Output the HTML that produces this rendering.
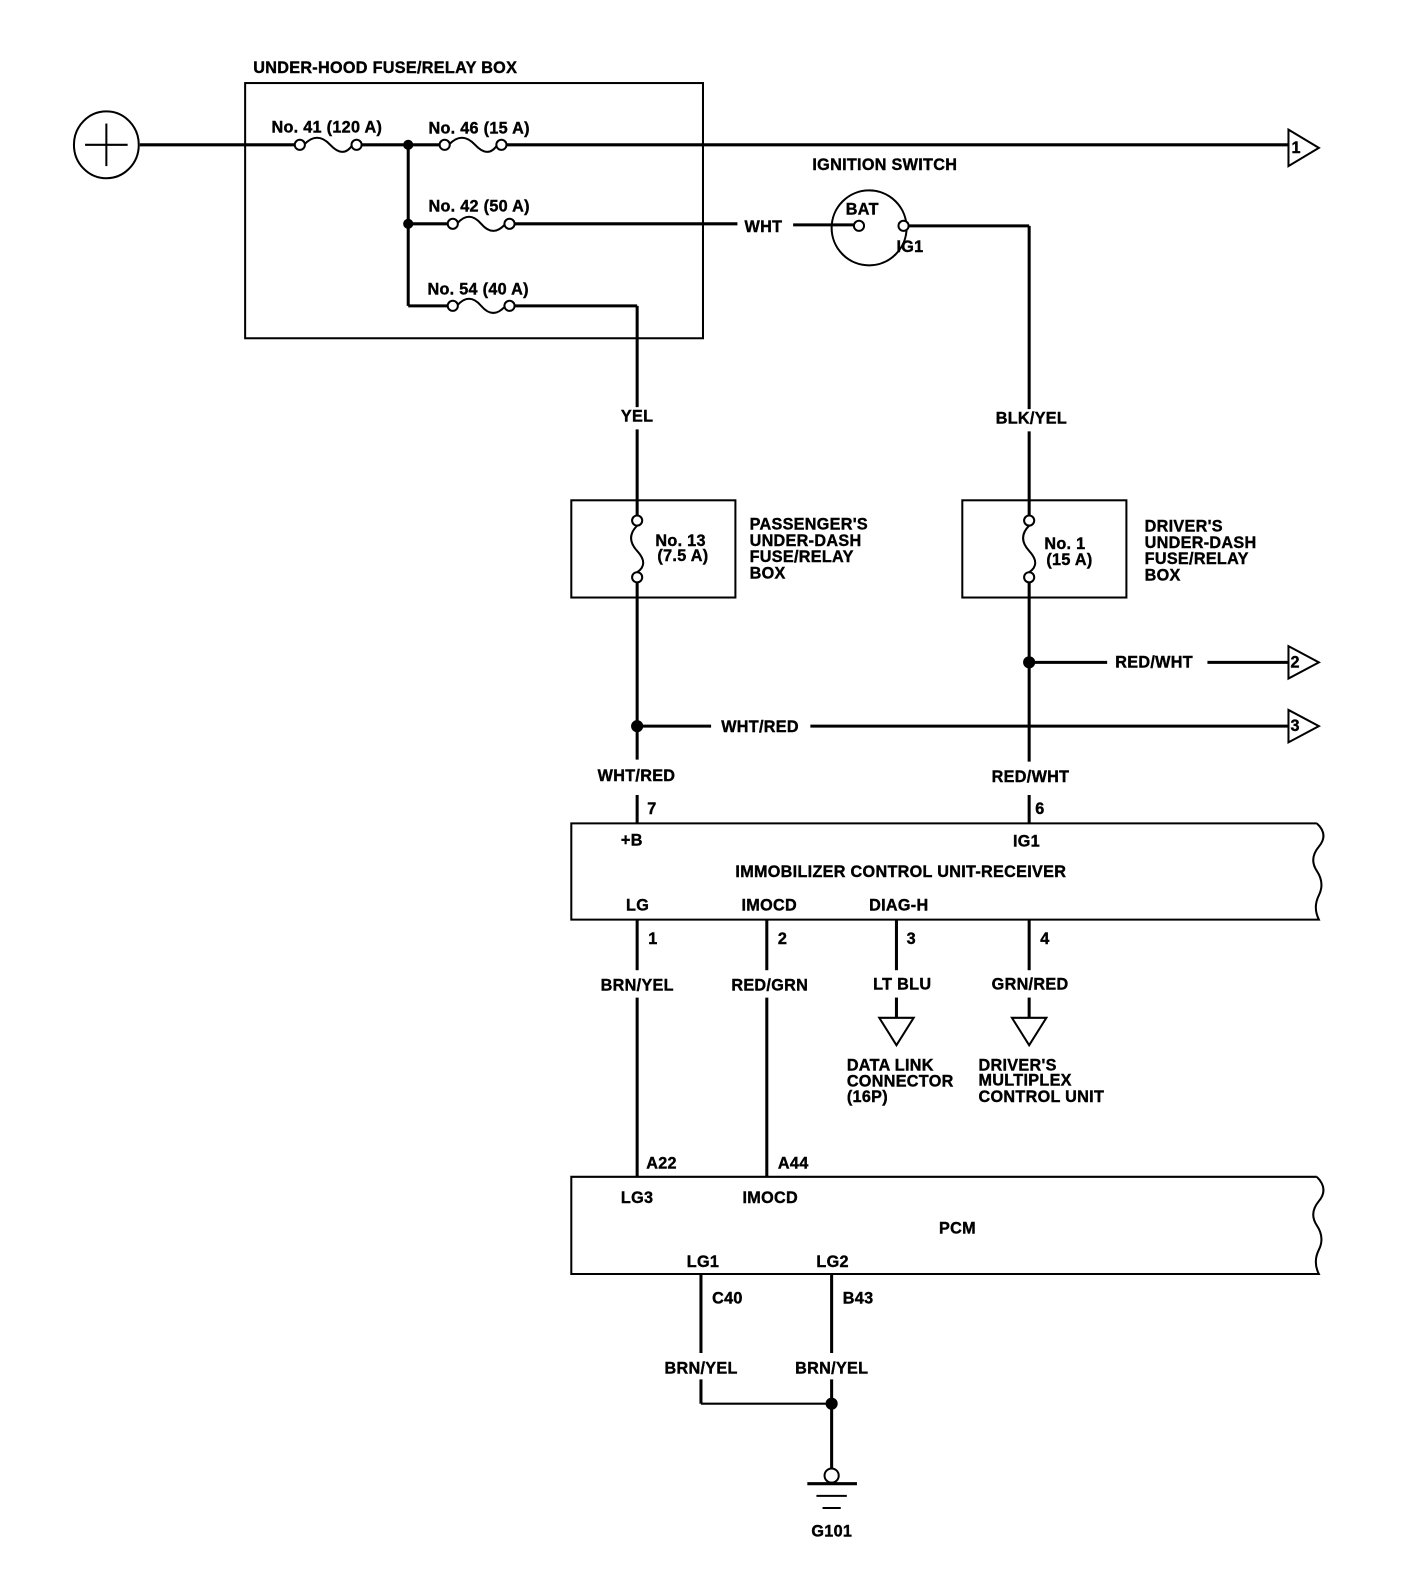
<!DOCTYPE html>
<html><head><meta charset="utf-8"><style>
html,body{margin:0;padding:0;background:#fff;}
svg{display:block;}
text{font-family:"Liberation Sans",sans-serif;font-weight:bold;font-size:16px;fill:#000;letter-spacing:0.3px;stroke:#000;stroke-width:0.4px;}
</style></head><body>
<svg width="1408" height="1588" viewBox="0 0 1390 1568" preserveAspectRatio="none" xmlns="http://www.w3.org/2000/svg">
<g stroke="#000" stroke-width="3" fill="none">
<rect x="242" y="82" width="452" height="252" stroke-width="2"/>
<ellipse cx="105" cy="143" rx="32" ry="33" stroke-width="2"/>
<line x1="105" y1="122" x2="105" y2="164" stroke-width="2"/>
<line x1="84" y1="143" x2="126" y2="143" stroke-width="2"/>
<line x1="138" y1="143" x2="291" y2="143"/>
<path d="M300,143 q13,-14 26,0 t22,0" stroke-width="2"/>
<line x1="357" y1="143" x2="434" y2="143"/>
<path d="M443,143 q13,-14 26,0 t22,0" stroke-width="2"/>
<line x1="500" y1="143" x2="1272" y2="143"/>
<line x1="403" y1="143" x2="403" y2="302"/>
<line x1="403" y1="221" x2="442" y2="221"/>
<path d="M451,221 q12,-14 24,0 t24,0" stroke-width="2"/>
<line x1="508" y1="221" x2="728" y2="221"/>
<line x1="783" y1="222" x2="843" y2="222"/>
<line x1="403" y1="302" x2="442" y2="302"/>
<path d="M451,302 q12,-14 24,0 t24,0" stroke-width="2"/>
<line x1="508" y1="302" x2="629" y2="302"/>
<line x1="629" y1="302" x2="629" y2="402"/>
<line x1="629" y1="424" x2="629" y2="509"/>
<circle cx="858" cy="225" r="37" stroke-width="2"/>
<line x1="897" y1="223" x2="1016" y2="223"/>
<line x1="1016" y1="223" x2="1016" y2="404"/>
<line x1="1016" y1="426" x2="1016" y2="509"/>
<rect x="564" y="494" width="162" height="96" stroke-width="2"/>
<path d="M629,519 q-12,12 0,25 t0,21" stroke-width="2"/>
<line x1="629" y1="575" x2="629" y2="750"/>
<rect x="950" y="494" width="162" height="96" stroke-width="2"/>
<path d="M1016,519 q-12,12 0,25 t0,21" stroke-width="2"/>
<line x1="1016" y1="575" x2="1016" y2="752"/>
<line x1="1016" y1="654" x2="1093" y2="654"/>
<line x1="1192" y1="654" x2="1272" y2="654"/>
<line x1="629" y1="717" x2="702" y2="717"/>
<line x1="800" y1="717" x2="1272" y2="717"/>
<line x1="629" y1="785" x2="629" y2="813"/>
<line x1="1016" y1="785" x2="1016" y2="813"/>
<path d="M1300,813 L564,813 L564,908 L1302,908 q-6,-12 0,-24 t-2,-24 t2,-24 t-2,-23" stroke-width="2"/>
<line x1="629" y1="908" x2="629" y2="958"/>
<line x1="629" y1="985" x2="629" y2="1162"/>
<line x1="757" y1="908" x2="757" y2="958"/>
<line x1="757" y1="985" x2="757" y2="1162"/>
<line x1="885" y1="908" x2="885" y2="958"/>
<line x1="885" y1="985" x2="885" y2="1005"/>
<line x1="1016" y1="908" x2="1016" y2="958"/>
<line x1="1016" y1="985" x2="1016" y2="1005"/>
<polygon points="868,1005 902,1005 885,1032" stroke-width="2"/>
<polygon points="999,1005 1033,1005 1016,1032" stroke-width="2"/>
<path d="M1300,1162 L564,1162 L564,1258 L1302,1258 q-6,-12 0,-24 t-2,-24 t2,-24 t-2,-24" stroke-width="2"/>
<line x1="692" y1="1258" x2="692" y2="1336"/>
<line x1="692" y1="1362" x2="692" y2="1386"/>
<line x1="692" y1="1386" x2="821" y2="1386" stroke-width="2"/>
<line x1="821" y1="1258" x2="821" y2="1336"/>
<line x1="821" y1="1362" x2="821" y2="1450"/>
<circle cx="821" cy="1457" r="7" stroke-width="2"/>
<line x1="797" y1="1465" x2="846" y2="1465"/>
<line x1="806" y1="1477" x2="836" y2="1477" stroke-width="2"/>
<line x1="812" y1="1489" x2="830" y2="1489" stroke-width="2"/>
<polygon points="1272,128 1302,146 1272,164" stroke-width="2"/>
<polygon points="1272,638 1302,654 1272,670" stroke-width="2"/>
<polygon points="1272,701 1302,717 1272,733" stroke-width="2"/>
</g>
<g fill="#fff" stroke="#000" stroke-width="2">
<circle cx="296" cy="143" r="5"/><circle cx="352" cy="143" r="5"/>
<circle cx="439" cy="143" r="5"/><circle cx="495" cy="143" r="5"/>
<circle cx="447" cy="221" r="5"/><circle cx="503" cy="221" r="5"/>
<circle cx="447" cy="302" r="5"/><circle cx="503" cy="302" r="5"/>
<circle cx="848" cy="223" r="5"/><circle cx="892" cy="223" r="5"/>
<circle cx="629" cy="514" r="5"/><circle cx="629" cy="570" r="5"/>
<circle cx="1016" cy="514" r="5"/><circle cx="1016" cy="570" r="5"/>
</g>
<g fill="#000">
<circle cx="403" cy="143" r="5"/><circle cx="403" cy="221" r="5"/>
<circle cx="629" cy="717" r="6"/><circle cx="1016" cy="654" r="6"/>
<circle cx="821" cy="1386" r="6"/>
</g>
<text x="250" y="72">UNDER-HOOD FUSE/RELAY BOX</text>
<text x="268" y="131">No. 41 (120 A)</text>
<text x="423" y="132">No. 46 (15 A)</text>
<text x="423" y="209">No. 42 (50 A)</text>
<text x="422" y="291">No. 54 (40 A)</text>
<text x="735" y="229">WHT</text>
<text x="802" y="168">IGNITION SWITCH</text>
<text x="835" y="212">BAT</text>
<text x="885" y="249">IG1</text>
<text x="613" y="416">YEL</text>
<text x="983" y="418">BLK/YEL</text>
<text x="647" y="539">No. 13</text>
<text x="649" y="554">(7.5 A)</text>
<text x="740" y="523">PASSENGER'S</text>
<text x="740" y="539">UNDER-DASH</text>
<text x="740" y="555">FUSE/RELAY</text>
<text x="740" y="571">BOX</text>
<text x="1031" y="542">No. 1</text>
<text x="1033" y="558">(15 A)</text>
<text x="1130" y="525">DRIVER'S</text>
<text x="1130" y="541">UNDER-DASH</text>
<text x="1130" y="557">FUSE/RELAY</text>
<text x="1130" y="573">BOX</text>
<text x="1101" y="659">RED/WHT</text>
<text x="712" y="723">WHT/RED</text>
<text x="1275" y="151" font-size="12">1</text>
<text x="1274" y="659" font-size="12">2</text>
<text x="1274" y="722" font-size="12">3</text>
<text x="590" y="771">WHT/RED</text>
<text x="979" y="772">RED/WHT</text>
<text x="639" y="804">7</text>
<text x="1022" y="804">6</text>
<text x="613" y="835">+B</text>
<text x="1000" y="836">IG1</text>
<text x="726" y="866">IMMOBILIZER CONTROL UNIT-RECEIVER</text>
<text x="618" y="899">LG</text>
<text x="732" y="899">IMOCD</text>
<text x="858" y="899">DIAG-H</text>
<text x="640" y="932">1</text>
<text x="768" y="932">2</text>
<text x="895" y="932">3</text>
<text x="1027" y="932">4</text>
<text x="593" y="978">BRN/YEL</text>
<text x="722" y="978">RED/GRN</text>
<text x="862" y="977">LT BLU</text>
<text x="979" y="977">GRN/RED</text>
<text x="836" y="1057">DATA LINK</text>
<text x="836" y="1073">CONNECTOR</text>
<text x="836" y="1088">(16P)</text>
<text x="966" y="1057">DRIVER'S</text>
<text x="966" y="1072">MULTIPLEX</text>
<text x="966" y="1088">CONTROL UNIT</text>
<text x="638" y="1154">A22</text>
<text x="768" y="1154">A44</text>
<text x="613" y="1188">LG3</text>
<text x="733" y="1188">IMOCD</text>
<text x="927" y="1218">PCM</text>
<text x="678" y="1251">LG1</text>
<text x="806" y="1251">LG2</text>
<text x="703" y="1287">C40</text>
<text x="832" y="1287">B43</text>
<text x="656" y="1356">BRN/YEL</text>
<text x="785" y="1356">BRN/YEL</text>
<text x="801" y="1517">G101</text>
</svg>
</body></html>
